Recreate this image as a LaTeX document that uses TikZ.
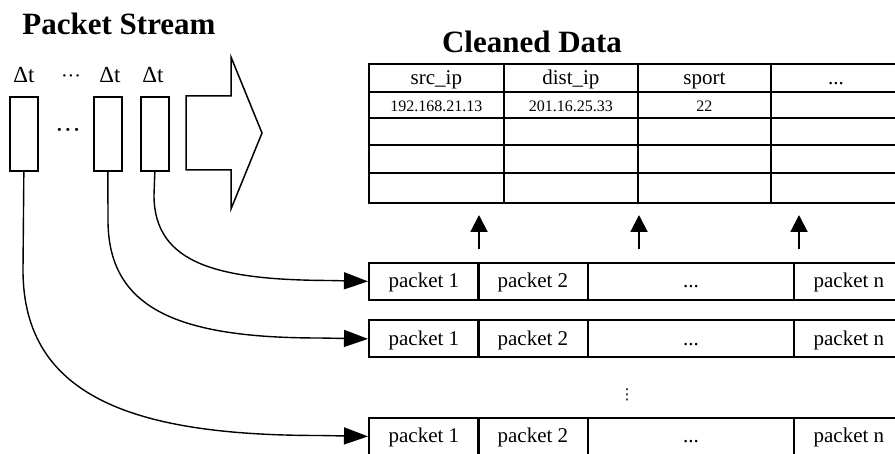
\documentclass[tikz,border=0pt]{standalone}
\usepackage{fontspec}
\setmainfont{Liberation Serif}
\newfontfamily\symfont{DejaVu Sans}
\usetikzlibrary{arrows.meta}

\begin{document}
\begin{tikzpicture}[x=1pt,y=-1pt,
  title/.style={font=\fontsize{31}{36}\selectfont\bfseries, inner sep=0pt},
  lbl/.style={font=\fontsize{23}{26}\selectfont, inner sep=0pt, anchor=base},
  win/.style={draw, line width=1.7pt, inner sep=0pt, anchor=north west,
              minimum width=28pt, minimum height=74pt},
  cell/.style={draw, line width=1.8pt, inner sep=0pt, anchor=north west,
               font=\fontsize{21}{24}\selectfont, text height=16pt, text depth=3pt},
  datacell/.style={cell, font=\fontsize{16}{19}\selectfont, text height=14pt, text depth=0pt},
  pcell/.style={draw, line width=1.8pt, inner sep=0pt, anchor=north west,
                minimum height=37pt, font=\fontsize{21}{24}\selectfont,
                text height=16pt, text depth=3pt},
  flow/.style={line width=1.4pt, -{Triangle[length=24pt,width=17pt]}},
  lift/.style={line width=2pt, -{Triangle[length=17pt,width=17pt]}}
]
\useasboundingbox (0,0) rectangle (895,454);
\clip (0,0) rectangle (895,454);

% headings
\node[title] (pstitle) at (119,24) {Packet Stream};
\node[title] (cdtitle) at (532,42) {Cleaned Data};

% time windows of the packet stream
\node[win] (w1) at (9,96) {};
\node[win] (w2) at (93,96) {};
\node[win] (w3) at (140,96) {};
\node[lbl] (dt1) at (24,83) {Δt};
\node[lbl, font=\fontsize{20}{24}\selectfont] (dtdots) at (71,83) {···};
\node[lbl] (dt2) at (110,83) {Δt};
\node[lbl] (dt3) at (153,83) {Δt};
\node[lbl, font=\fontsize{26}{30}\selectfont] (wdots) at (68,139) {···};

% big arrow towards the table
\draw[line width=1.5pt, line join=miter]
  (186,96) -- (231,96) -- (231,57) -- (262,133) -- (231,209)
  -- (231,170) -- (186,170) -- cycle;

% cleaned data table
\foreach \r/\ya/\yb in {2/117/144, 3/144/172, 4/172/202}
  \foreach \c/\xa/\xb in {1/368/503, 2/503/637, 3/637/770, 4/770/900}
    \node[cell, minimum width={(\xb-\xa)*1pt}, minimum height={(\yb-\ya)*1pt}]
      (t\r-\c) at (\xa,\ya) {};
\node[cell, minimum width=135pt, minimum height=28pt] (t0-1) at (368,63) {src\_ip};
\node[cell, minimum width=134pt, minimum height=28pt] (t0-2) at (503,63) {dist\_ip};
\node[cell, minimum width=133pt, minimum height=28pt] (t0-3) at (637,63) {sport};
\node[cell, minimum width=130pt, minimum height=28pt] (t0-4) at (770,63) {...};
\node[datacell, minimum width=135pt, minimum height=26pt] (t1-1) at (368,91) {192.168.21.13};
\node[datacell, minimum width=134pt, minimum height=26pt] (t1-2) at (503,91) {201.16.25.33};
\node[datacell, minimum width=133pt, minimum height=26pt] (t1-3) at (637,91) {22};
\node[datacell, minimum width=130pt, minimum height=26pt] (t1-4) at (770,91) {};

% packet sequences
\foreach \r/\y in {1/262, 2/319.5, 3/417} {
  \node[pcell, minimum width=110pt] (p\r-1) at (368,\y) {packet 1};
  \node[pcell, minimum width=110pt] (p\r-2) at (477,\y) {packet 2};
  \node[pcell, minimum width=206pt] (p\r-3) at (587,\y) {...};
  \node[pcell, minimum width=110pt] (p\r-4) at (793,\y) {packet n};
}
\node[font=\symfont\fontsize{15}{18}\selectfont, inner sep=0pt] (vdots) at (627,395) {⋮};

% each window feeds one sequence
\draw[flow] (w3.south) -- (154,195)
  .. controls (154,265) and (220,280) .. (330,280.5) -- (p1-1.west);
\draw[flow] (w2.south) -- (108,220)
  .. controls (108,310) and (180,338) .. (320,338) -- (p2-1.west);
\draw[flow] (w1.south) -- (23,270)
  .. controls (23,400) and (140,435.5) .. (320,435.5) -- (p3-1.west);

% sequences are turned into table rows
\coordinate (a1s) at (479,249); \coordinate (a1e) at (479,215);
\coordinate (a2s) at (639,249); \coordinate (a2e) at (639,215);
\coordinate (a3s) at (799,249); \coordinate (a3e) at (799,215);
\draw[lift] (a1s) -- (a1e);
\draw[lift] (a2s) -- (a2e);
\draw[lift] (a3s) -- (a3e);
\end{tikzpicture}
\end{document}
